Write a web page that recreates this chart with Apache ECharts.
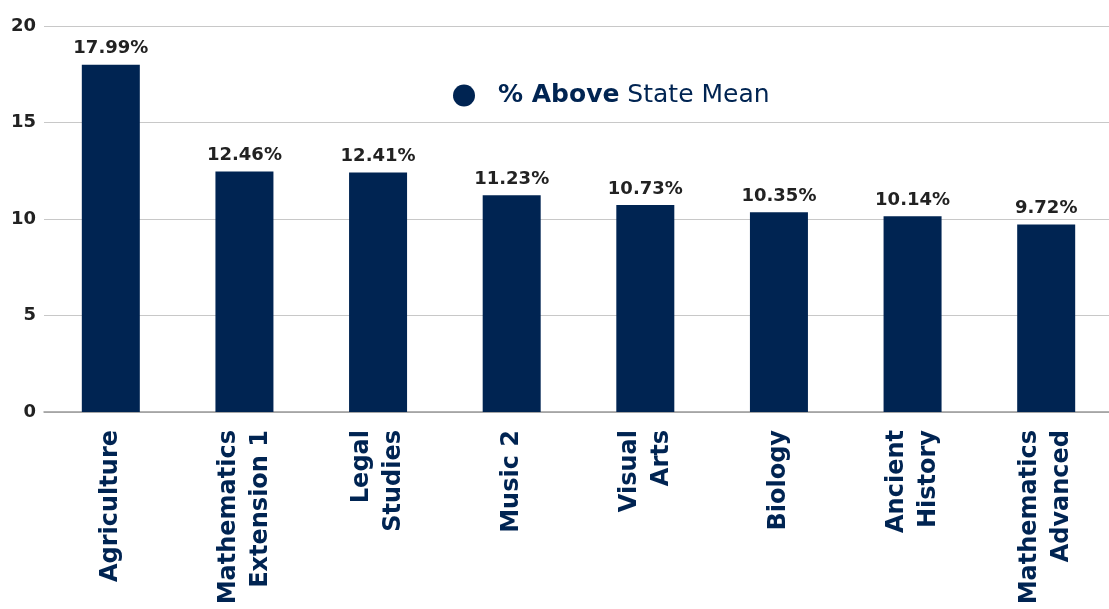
<!DOCTYPE html>
<html>
<head>
<meta charset="utf-8">
<script src="https://cdn.jsdelivr.net/npm/echarts@6/dist/echarts.min.js"></script>
<style>html,body{margin:0;padding:0;background:#fff}#c{width:1109px;height:609px}</style>
</head>
<body>
<div id="c"></div>
<script>
var categories = ['Agriculture', 'Mathematics\nExtension 1', 'Legal\nStudies', 'Music 2', 'Visual\nArts', 'Biology', 'Ancient\nHistory', 'Mathematics\nAdvanced'];
var values = [17.99, 12.46, 12.41, 11.23, 10.73, 10.35, 10.14, 9.72];
var yTicks = [0, 5, 10, 15, 20];
var seriesName = '% Above State Mean';

var navy = '#002452';
var chart = echarts.init(document.getElementById('c'), null, {renderer: 'canvas'});
chart.setOption({
  animation: false,
  textStyle: {fontFamily: 'DejaVu Sans'},
  grid: {left: 44, top: 26, width: 1069, height: 386, containLabel: false, outerBoundsMode: 'none'},
  legend: {
    show: true,
    data: [seriesName],
    left: 448,
    top: 78,
    icon: 'circle',
    itemWidth: 22,
    itemHeight: 22,
    formatter: function () { return '{b|% Above} State Mean'; },
    textStyle: {
      color: navy,
      fontSize: 25,
      fontFamily: 'DejaVu Sans',
      padding: [0, 0, 0, 18],
      rich: {b: {fontWeight: 'bold', fontSize: 25, color: navy, fontFamily: 'DejaVu Sans'}}
    }
  },
  xAxis: {
    type: 'category',
    data: categories,
    axisLine: {lineStyle: {color: '#999', width: 1.5}},
    axisTick: {show: false},
    axisLabel: {
      rotate: 90,
      margin: 18,
      color: navy,
      fontWeight: 'bold',
      fontSize: 24,
      lineHeight: 32,
      fontFamily: 'DejaVu Sans',
      interval: 0
    }
  },
  yAxis: {
    type: 'value',
    min: yTicks[0],
    max: yTicks[yTicks.length - 1],
    interval: 5,
    axisLine: {show: false},
    axisTick: {show: false},
    splitLine: {lineStyle: {color: '#c8c8c8', width: 1.2}},
    axisLabel: {color: '#222', fontWeight: 'bold', fontSize: 18, margin: 8, fontFamily: 'DejaVu Sans'}
  },
  series: [{
    name: seriesName,
    type: 'bar',
    data: values,
    barWidth: 58,
    itemStyle: {color: navy},
    label: {
      show: true,
      position: 'top',
      distance: 7,
      color: '#222',
      fontWeight: 'bold',
      fontSize: 18,
      fontFamily: 'DejaVu Sans',
      formatter: function (p) { return p.value.toFixed(2) + '%'; }
    }
  }]
});
</script>
</body>
</html>
